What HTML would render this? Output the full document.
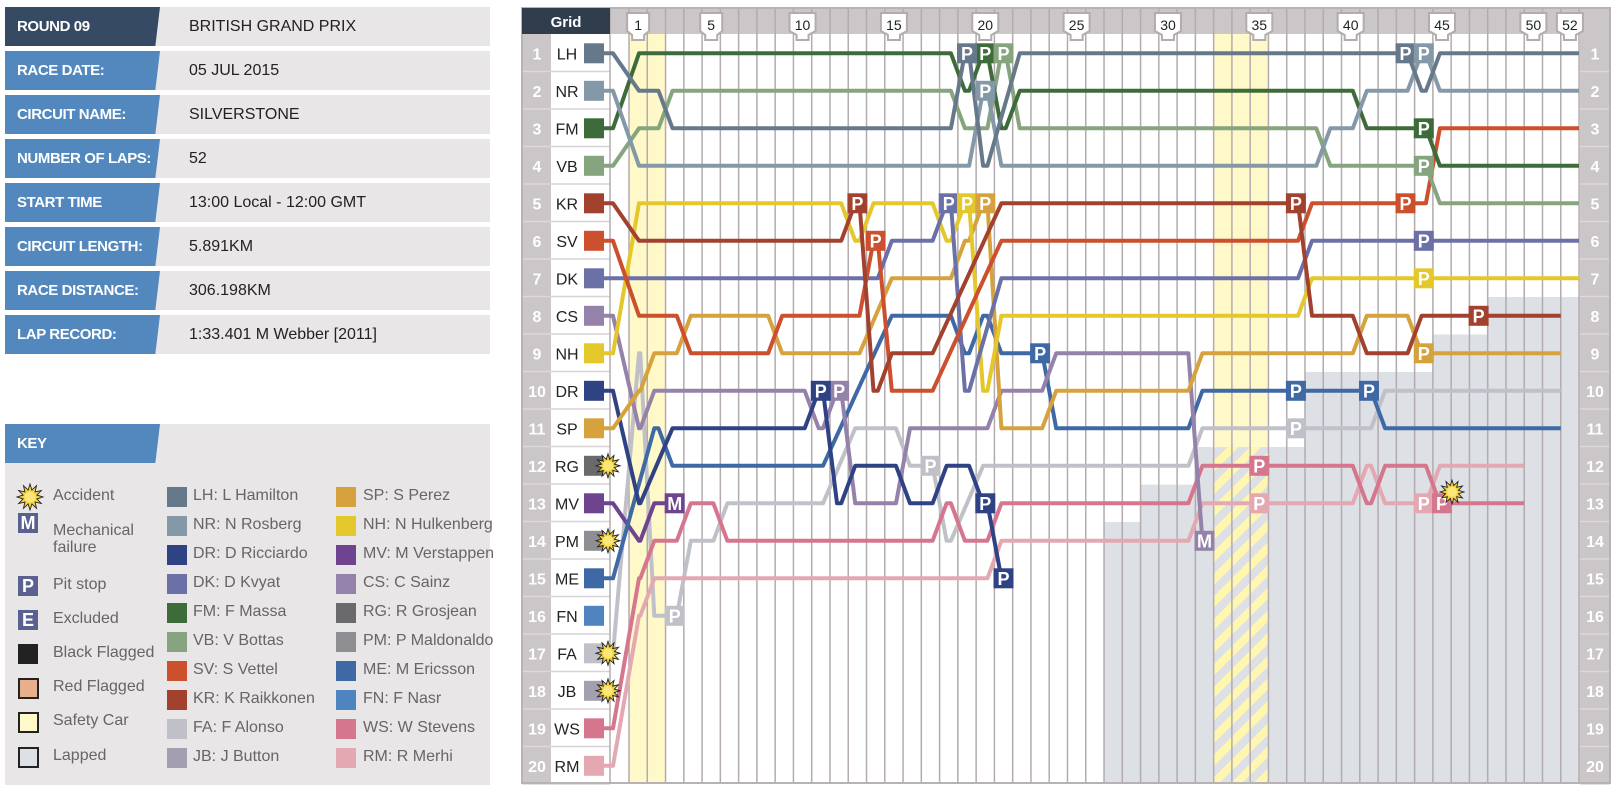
<!DOCTYPE html>
<html><head><meta charset="utf-8">
<style>
html,body{margin:0;padding:0;background:#fff;}
body{width:1614px;height:789px;position:relative;overflow:hidden;font-family:"Liberation Sans",sans-serif;}
.row{position:absolute;left:5px;width:485px;height:39px;background:#e8e6e7;}
.lab{position:absolute;left:0;top:0;width:155px;height:39px;background:#5288bd;clip-path:polygon(0 0,100% 0,97% 100%,0 100%);color:#fff;font-weight:bold;font-size:15px;letter-spacing:-0.4px;line-height:39px;padding-left:12px;box-sizing:border-box;white-space:nowrap;}
.val{position:absolute;left:184px;top:0;line-height:39px;font-size:16px;color:#222;}
.key{position:absolute;left:5px;top:424px;width:485px;height:361px;background:#e8e6e7;}
.kt{position:absolute;font-size:16px;color:#6b6365;white-space:nowrap;}
.sq{position:absolute;width:20px;height:20px;}
svg text{font-family:"Liberation Sans",sans-serif;}
</style></head><body>
<div class="row" style="top:7px"><div class="lab" style="background:#364a63">ROUND 09</div><div class="val">BRITISH GRAND PRIX</div></div>
<div class="row" style="top:51px"><div class="lab">RACE DATE:</div><div class="val">05 JUL 2015</div></div>
<div class="row" style="top:95px"><div class="lab">CIRCUIT NAME:</div><div class="val">SILVERSTONE</div></div>
<div class="row" style="top:139px"><div class="lab">NUMBER OF LAPS:</div><div class="val">52</div></div>
<div class="row" style="top:183px"><div class="lab">START TIME</div><div class="val">13:00 Local - 12:00 GMT</div></div>
<div class="row" style="top:227px"><div class="lab">CIRCUIT LENGTH:</div><div class="val">5.891KM</div></div>
<div class="row" style="top:271px"><div class="lab">RACE DISTANCE:</div><div class="val">306.198KM</div></div>
<div class="row" style="top:315px"><div class="lab">LAP RECORD:</div><div class="val">1:33.401 M Webber [2011]</div></div>

<div class="key">
<div class="lab" style="height:39px">KEY</div>
</div>
<div style="position:absolute;left:0;top:0;width:500px;height:789px;">
<div class="kt" style="left:53px;top:487px">Accident</div>
<div class="sq" style="left:18px;top:513px;background:#5a6190;color:#fff;font-weight:bold;font-size:18px;line-height:20px;text-align:center">M</div>
<div class="kt" style="left:53px;top:522px;line-height:17px">Mechanical<br>failure</div>
<div class="sq" style="left:18px;top:576px;background:#5a6190;color:#fff;font-weight:bold;font-size:18px;line-height:20px;text-align:center">P</div>
<div class="kt" style="left:53px;top:576px">Pit stop</div>
<div class="sq" style="left:18px;top:610px;background:#5a6190;color:#fff;font-weight:bold;font-size:18px;line-height:20px;text-align:center">E</div>
<div class="kt" style="left:53px;top:610px">Excluded</div>
<div class="sq" style="left:18px;top:644px;background:#222"></div>
<div class="kt" style="left:53px;top:644px">Black Flagged</div>
<div class="sq" style="left:18px;top:678px;background:#e8b08a;border:2px solid #222;width:17px;height:17px"></div>
<div class="kt" style="left:53px;top:678px">Red Flagged</div>
<div class="sq" style="left:18px;top:712px;background:#fff8c8;border:2px solid #222;width:17px;height:17px"></div>
<div class="kt" style="left:53px;top:712px">Safety Car</div>
<div class="sq" style="left:18px;top:747px;background:#dde0e5;border:2px solid #222;width:17px;height:17px"></div>
<div class="kt" style="left:53px;top:747px">Lapped</div>

<div class="sq" style="left:167px;top:487px;background:#66798a"></div><div class="kt" style="left:193px;top:487px">LH: L Hamilton</div>
<div class="sq" style="left:167px;top:516px;background:#8499a8"></div><div class="kt" style="left:193px;top:516px">NR: N Rosberg</div>
<div class="sq" style="left:167px;top:545px;background:#2f4284"></div><div class="kt" style="left:193px;top:545px">DR: D Ricciardo</div>
<div class="sq" style="left:167px;top:574px;background:#6b70a6"></div><div class="kt" style="left:193px;top:574px">DK: D Kvyat</div>
<div class="sq" style="left:167px;top:603px;background:#3d6b3a"></div><div class="kt" style="left:193px;top:603px">FM: F Massa</div>
<div class="sq" style="left:167px;top:632px;background:#86a47e"></div><div class="kt" style="left:193px;top:632px">VB: V Bottas</div>
<div class="sq" style="left:167px;top:661px;background:#cc4f2e"></div><div class="kt" style="left:193px;top:661px">SV: S Vettel</div>
<div class="sq" style="left:167px;top:690px;background:#a3412f"></div><div class="kt" style="left:193px;top:690px">KR: K Raikkonen</div>
<div class="sq" style="left:167px;top:719px;background:#c0c0c8"></div><div class="kt" style="left:193px;top:719px">FA: F Alonso</div>
<div class="sq" style="left:167px;top:748px;background:#a39fb0"></div><div class="kt" style="left:193px;top:748px">JB: J Button</div>

<div class="sq" style="left:336px;top:487px;background:#d6a23e"></div><div class="kt" style="left:363px;top:487px">SP: S Perez</div>
<div class="sq" style="left:336px;top:516px;background:#e4c72a"></div><div class="kt" style="left:363px;top:516px">NH: N Hulkenberg</div>
<div class="sq" style="left:336px;top:545px;background:#6e4390"></div><div class="kt" style="left:363px;top:545px">MV: M Verstappen</div>
<div class="sq" style="left:336px;top:574px;background:#9582ab"></div><div class="kt" style="left:363px;top:574px">CS: C Sainz</div>
<div class="sq" style="left:336px;top:603px;background:#6a6a6c"></div><div class="kt" style="left:363px;top:603px">RG: R Grosjean</div>
<div class="sq" style="left:336px;top:632px;background:#8f8f93"></div><div class="kt" style="left:363px;top:632px">PM: P Maldonaldo</div>
<div class="sq" style="left:336px;top:661px;background:#3f69a5"></div><div class="kt" style="left:363px;top:661px">ME: M Ericsson</div>
<div class="sq" style="left:336px;top:690px;background:#4f84bf"></div><div class="kt" style="left:363px;top:690px">FN: F Nasr</div>
<div class="sq" style="left:336px;top:719px;background:#d6768e"></div><div class="kt" style="left:363px;top:719px">WS: W Stevens</div>
<div class="sq" style="left:336px;top:748px;background:#e4a8b3"></div><div class="kt" style="left:363px;top:748px">RM: R Merhi</div>
</div>

<svg id="s" width="1614" height="789" style="position:absolute;left:0;top:0" xmlns="http://www.w3.org/2000/svg">
<defs>
<pattern id="hatch" width="16" height="16" patternUnits="userSpaceOnUse" patternTransform="rotate(45)">
<rect x="0" y="0" width="8" height="16" fill="#fff6b0"/>
</pattern>
</defs>
<g id="bg"></g>
<g id="lines" fill="none" stroke-width="4" stroke-linejoin="round"></g>
<g id="boxes"></g>
<g font-size="16" fill="#222" text-anchor="middle">
<rect x="522" y="8" width="88" height="26" fill="#2f3d4d"/>
<text x="566" y="27" fill="#fff" font-weight="bold" font-size="15">Grid</text>
</g>
<g font-size="14" fill="#222" text-anchor="middle">
<text x="638.1" y="30">1</text><text x="711.2" y="30">5</text><text x="802.5" y="30">10</text><text x="893.9" y="30">15</text><text x="985.3" y="30">20</text><text x="1076.6" y="30">25</text><text x="1168" y="30">30</text><text x="1259.3" y="30">35</text><text x="1350.7" y="30">40</text><text x="1442" y="30">45</text><text x="1533.4" y="30">50</text><text x="1569.9" y="30">52</text>
</g>
<g font-size="16" font-weight="bold" fill="#fff" text-anchor="middle">
<text x="537" y="59.3">1</text><text x="537" y="96.8">2</text><text x="537" y="134.3">3</text><text x="537" y="171.8">4</text><text x="537" y="209.3">5</text><text x="537" y="246.8">6</text><text x="537" y="284.3">7</text><text x="537" y="321.8">8</text><text x="537" y="359.3">9</text><text x="537" y="396.8">10</text><text x="537" y="434.3">11</text><text x="537" y="471.8">12</text><text x="537" y="509.3">13</text><text x="537" y="546.8">14</text><text x="537" y="584.3">15</text><text x="537" y="621.8">16</text><text x="537" y="659.3">17</text><text x="537" y="696.8">18</text><text x="537" y="734.3">19</text><text x="537" y="771.8">20</text>
<text x="1595" y="59.3">1</text><text x="1595" y="96.8">2</text><text x="1595" y="134.3">3</text><text x="1595" y="171.8">4</text><text x="1595" y="209.3">5</text><text x="1595" y="246.8">6</text><text x="1595" y="284.3">7</text><text x="1595" y="321.8">8</text><text x="1595" y="359.3">9</text><text x="1595" y="396.8">10</text><text x="1595" y="434.3">11</text><text x="1595" y="471.8">12</text><text x="1595" y="509.3">13</text><text x="1595" y="546.8">14</text><text x="1595" y="584.3">15</text><text x="1595" y="621.8">16</text><text x="1595" y="659.3">17</text><text x="1595" y="696.8">18</text><text x="1595" y="734.3">19</text><text x="1595" y="771.8">20</text>
</g>
<g font-size="16" fill="#222" text-anchor="middle">
<text x="567" y="59.3">LH</text><text x="567" y="96.8">NR</text><text x="567" y="134.3">FM</text><text x="567" y="171.8">VB</text><text x="567" y="209.3">KR</text><text x="567" y="246.8">SV</text><text x="567" y="284.3">DK</text><text x="567" y="321.8">CS</text><text x="567" y="359.3">NH</text><text x="567" y="396.8">DR</text><text x="567" y="434.3">SP</text><text x="567" y="471.8">RG</text><text x="567" y="509.3">MV</text><text x="567" y="546.8">PM</text><text x="567" y="584.3">ME</text><text x="567" y="621.8">FN</text><text x="567" y="659.3">FA</text><text x="567" y="696.8">JB</text><text x="567" y="734.3">WS</text><text x="567" y="771.8">RM</text>
</g>
<g>
<rect x="584" y="43.3" width="20" height="20" fill="#66798a"/><rect x="584" y="80.8" width="20" height="20" fill="#8499a8"/><rect x="584" y="118.3" width="20" height="20" fill="#3d6b3a"/><rect x="584" y="155.8" width="20" height="20" fill="#86a47e"/><rect x="584" y="193.3" width="20" height="20" fill="#a3412f"/><rect x="584" y="230.8" width="20" height="20" fill="#cc4f2e"/><rect x="584" y="268.3" width="20" height="20" fill="#6b70a6"/><rect x="584" y="305.8" width="20" height="20" fill="#9582ab"/><rect x="584" y="343.3" width="20" height="20" fill="#e4c72a"/><rect x="584" y="380.8" width="20" height="20" fill="#2f4284"/><rect x="584" y="418.3" width="20" height="20" fill="#d6a23e"/><rect x="584" y="455.8" width="20" height="20" fill="#6a6a6c"/><rect x="584" y="493.3" width="20" height="20" fill="#6e4390"/><rect x="584" y="530.8" width="20" height="20" fill="#8f8f93"/><rect x="584" y="568.3" width="20" height="20" fill="#3f69a5"/><rect x="584" y="605.8" width="20" height="20" fill="#4f84bf"/><rect x="584" y="643.3" width="20" height="20" fill="#c0c0c8"/><rect x="584" y="680.8" width="20" height="20" fill="#a39fb0"/><rect x="584" y="718.3" width="20" height="20" fill="#d6768e"/><rect x="584" y="755.8" width="20" height="20" fill="#e4a8b3"/>
</g>
<g font-size="18" font-weight="bold" fill="#fff" text-anchor="middle">
<g transform="translate(985.3,53.3)"><rect x="-10" y="-10" width="20" height="20" fill="#3d6b3a"/><text y="6.5">P</text></g>
<g transform="translate(1423.8,128.3)"><rect x="-10" y="-10" width="20" height="20" fill="#3d6b3a"/><text y="6.5">P</text></g>
<g transform="translate(1003.5,53.3)"><rect x="-10" y="-10" width="20" height="20" fill="#86a47e"/><text y="6.5">P</text></g>
<g transform="translate(1423.8,165.8)"><rect x="-10" y="-10" width="20" height="20" fill="#86a47e"/><text y="6.5">P</text></g>
<g transform="translate(967,53.3)"><rect x="-10" y="-10" width="20" height="20" fill="#66798a"/><text y="6.5">P</text></g>
<g transform="translate(1405.5,53.3)"><rect x="-10" y="-10" width="20" height="20" fill="#66798a"/><text y="6.5">P</text></g>
<g transform="translate(985.3,90.8)"><rect x="-10" y="-10" width="20" height="20" fill="#8499a8"/><text y="6.5">P</text></g>
<g transform="translate(1423.8,53.3)"><rect x="-10" y="-10" width="20" height="20" fill="#8499a8"/><text y="6.5">P</text></g>
<g transform="translate(857.4,203.3)"><rect x="-10" y="-10" width="20" height="20" fill="#a3412f"/><text y="6.5">P</text></g>
<g transform="translate(1295.9,203.3)"><rect x="-10" y="-10" width="20" height="20" fill="#a3412f"/><text y="6.5">P</text></g>
<g transform="translate(1478.6,315.8)"><rect x="-10" y="-10" width="20" height="20" fill="#a3412f"/><text y="6.5">P</text></g>
<g transform="translate(875.6,240.8)"><rect x="-10" y="-10" width="20" height="20" fill="#cc4f2e"/><text y="6.5">P</text></g>
<g transform="translate(1405.5,203.3)"><rect x="-10" y="-10" width="20" height="20" fill="#cc4f2e"/><text y="6.5">P</text></g>
<g transform="translate(948.7,203.3)"><rect x="-10" y="-10" width="20" height="20" fill="#6b70a6"/><text y="6.5">P</text></g>
<g transform="translate(1423.8,240.8)"><rect x="-10" y="-10" width="20" height="20" fill="#6b70a6"/><text y="6.5">P</text></g>
<g transform="translate(967,203.3)"><rect x="-10" y="-10" width="20" height="20" fill="#e4c72a"/><text y="6.5">P</text></g>
<g transform="translate(1423.8,278.3)"><rect x="-10" y="-10" width="20" height="20" fill="#e4c72a"/><text y="6.5">P</text></g>
<g transform="translate(985.3,203.3)"><rect x="-10" y="-10" width="20" height="20" fill="#d6a23e"/><text y="6.5">P</text></g>
<g transform="translate(1423.8,353.3)"><rect x="-10" y="-10" width="20" height="20" fill="#d6a23e"/><text y="6.5">P</text></g>
<g transform="translate(839.1,390.8)"><rect x="-10" y="-10" width="20" height="20" fill="#9582ab"/><text y="6.5">P</text></g>
<g transform="translate(820.8,390.8)"><rect x="-10" y="-10" width="20" height="20" fill="#2f4284"/><text y="6.5">P</text></g>
<g transform="translate(985.3,503.3)"><rect x="-10" y="-10" width="20" height="20" fill="#2f4284"/><text y="6.5">P</text></g>
<g transform="translate(1003.5,578.3)"><rect x="-10" y="-10" width="20" height="20" fill="#2f4284"/><text y="6.5">P</text></g>
<g transform="translate(1040.1,353.3)"><rect x="-10" y="-10" width="20" height="20" fill="#3f69a5"/><text y="6.5">P</text></g>
<g transform="translate(1295.9,390.8)"><rect x="-10" y="-10" width="20" height="20" fill="#3f69a5"/><text y="6.5">P</text></g>
<g transform="translate(1369,390.8)"><rect x="-10" y="-10" width="20" height="20" fill="#3f69a5"/><text y="6.5">P</text></g>
<g transform="translate(674.7,615.8)"><rect x="-10" y="-10" width="20" height="20" fill="#c0c0c8"/><text y="6.5">P</text></g>
<g transform="translate(930.5,465.8)"><rect x="-10" y="-10" width="20" height="20" fill="#c0c0c8"/><text y="6.5">P</text></g>
<g transform="translate(1295.9,428.3)"><rect x="-10" y="-10" width="20" height="20" fill="#c0c0c8"/><text y="6.5">P</text></g>
<g transform="translate(1259.3,465.8)"><rect x="-10" y="-10" width="20" height="20" fill="#d6768e"/><text y="6.5">P</text></g>
<g transform="translate(1259.3,503.3)"><rect x="-10" y="-10" width="20" height="20" fill="#e4a8b3"/><text y="6.5">P</text></g>
<g transform="translate(1423.8,503.3)"><rect x="-10" y="-10" width="20" height="20" fill="#e4a8b3"/><text y="6.5">P</text></g>
<g transform="translate(1442,503.3)"><rect x="-10" y="-10" width="20" height="20" fill="#d6768e"/><text y="6.5">P</text></g>
<g transform="translate(674.7,503.3)"><rect x="-10" y="-10" width="20" height="20" fill="#6e4390"/><text y="6.5">M</text></g>
<g transform="translate(1204.5,540.8)"><rect x="-10" y="-10" width="20" height="20" fill="#9582ab"/><text y="6.5">M</text></g>
</g>
<g id="stars"></g>
</svg>
<script>
(function(){
var NS="http://www.w3.org/2000/svg";
function el(g,t,a){var e=document.createElementNS(NS,t);for(var k in a)e.setAttribute(k,a[k]);g.appendChild(e);return e;}
var B=function(k){return 629+18.27*k;};
var Y=function(p){return 53.3+37.5*(p-1);};
var bg=document.getElementById('bg');
el(bg,'rect',{x:610,y:8,width:1000,height:26,fill:'#cbc6c8'});
el(bg,'rect',{x:522,y:34,width:29,height:749,fill:'#cbc6c8'});
el(bg,'rect',{x:1580,y:34,width:30,height:749,fill:'#cbc6c8'});
el(bg,'rect',{x:629,y:34,width:B(2)-629,height:749,fill:'#fff8c8'});
el(bg,'rect',{x:B(32),y:34,width:B(35)-B(32),height:749,fill:'#fff8c8'});
el(bg,'polygon',{points:'1104,783 1104,522 1140.6,522 1140.6,484.6 1195.4,484.6 1195.4,447 1305,447 1305,372 1433,372 1433,334.5 1488,334.5 1488,297 1580,297 1580,783',fill:'#dde0e4'});
el(bg,'rect',{x:B(32),y:447,width:B(35)-B(32),height:336,fill:'url(#hatch)'});
for(var p=1;p<=20;p++){var yb=34+37.5*p;
 el(bg,'line',{x1:522,x2:551,y1:yb,y2:yb,stroke:'#ddd8da','stroke-width':1.5});
 el(bg,'line',{x1:551,x2:610,y1:yb,y2:yb,stroke:'#d8d3d5','stroke-width':1.5});
 el(bg,'line',{x1:1580,x2:1610,y1:yb,y2:yb,stroke:'#ddd8da','stroke-width':1.5});}
el(bg,'line',{x1:610,x2:610,y1:8,y2:783,stroke:'#b3abae','stroke-width':1.5});
for(var k=0;k<=52;k++){el(bg,'line',{x1:B(k),x2:B(k),y1:8,y2:783,stroke:'#b3abae','stroke-width':1.5});}
el(bg,'rect',{x:522,y:8,width:1088,height:775,fill:'none',stroke:'#b9b2b5','stroke-width':2});
var bx=document.getElementById('boxes');
[1,5,10,15,20,25,30,35,40,45,50,52].forEach(function(l){var x=629+18.27*(l-0.5);var w=l<10?11:13;
 el(bx,'path',{d:'M'+(x-w)+',13 H'+(x+w)+' V31 L'+(x+6)+',35 V40 H'+(x-6)+' V35 L'+(x-w)+',31 Z',fill:'#fff',stroke:'#b3abae','stroke-width':2});});
function parse(s){var a=[];s.split(',').forEach(function(t){var q=t.split(':');var r=q[0].split('-').map(Number);var e=r[1]||r[0];for(var i=r[0];i<=e;i++)a[i]=(q[1]==='_')?null:+q[1];});return a;}
var D=[
['#a39fb0',17,'1:9,2:16,3:16,4-5:14,6-11:13,12:_,13-15:11,16-17:12,18:14,19:_,20-31:12,32-41:11,42-51:10','#c0c0c8'],
['#e4a8b3',20,'1:16,2-20:15,21-31:14,32-40:13,41:12,42-44:13,45-49:12'],
['#d6768e',19,'1:15,2-3:14,4-5:13,6-17:14,18:13,19-20:14,21-31:13,32-40:12,41:13,42-44:12,45-49:13'],
['#6e4390',13,'1:14,2-3:13'],
['#3f69a5',15,'1:_,2:11,3-11:12,12-14:_,15-18:8,19:9,20:8,21-23:9,24-31:11,32-41:10,42-51:11'],
['#9582ab',8,'1:11,2-10:10,11:11,12:10,13-15:13,16-20:11,21-23:10,24-31:9,32:14'],
['#2f4284',10,'1:13,2:_,3-10:11,11:10,12:13,13-15:12,16-17:13,18-19:12,20:13,21:15'],
['#d6a23e',11,'1:10,2-3:9,4-8:8,9-13:9,14:_,15-18:7,19:6,20:5,21-23:11,24-31:10,32-40:9,41-43:8,44-51:9'],
['#e4c72a',9,'1-12:5,13:6,14-17:5,18:6,19:5,20:10,21-37:8,38-52:7'],
['#6b70a6',7,'1-14:7,15-17:6,18:5,19:10,20:_,21-37:7,38-52:6'],
['#cc4f2e',6,'1-3:8,4-8:9,9-13:8,14:6,15-17:10,18-20:_,21-37:6,38-44:5,45-52:3'],
['#a3412f',5,'1-12:6,13:5,14:10,15-17:9,18-20:_,21-37:5,38-40:8,41-43:9,44-51:8'],
['#86a47e',4,'1-2:3,3-18:2,19-20:3,21:1,22-38:3,39-44:4,45-52:5'],
['#3d6b3a',3,'1-18:1,19:2,20:1,21:3,22-40:2,41-44:3,45-52:4'],
['#8499a8',2,'1-19:4,20:2,21-38:4,39-40:3,41-43:2,44:1,45-52:2'],
['#66798a',1,'1-2:2,3-18:3,19:1,20:4,21:_,22-43:1,44:2,45-52:1']
];
var lg=document.getElementById('lines');
D.forEach(function(d){var a=parse(d[2]);var g=d[1];var pts=[[604,Y(g)],[613,Y(g)]];var last=a.length-1;
 for(var k=1;k<=last;k++){if(a[k]==null)continue;var y=Y(a[k]);var x0=(k==1)?B(0)+10:B(k-1)+7;var x1=(k==last)?B(k):B(k)-7;pts.push([x0,y],[x1,y]);}
 el(lg,'polyline',{points:pts.map(function(p){return p[0].toFixed(1)+','+p[1].toFixed(1);}).join(' '),stroke:d[3]||d[0]});});
var sg=document.getElementById('stars');
function star(cx,cy,r){var pts=[];for(var i=0;i<24;i++){var rr=(i%2)?r*0.55:r;var an=Math.PI*2*i/24;pts.push((cx+rr*Math.cos(an)).toFixed(1)+','+(cy+rr*Math.sin(an)).toFixed(1));}
 el(sg,'polygon',{points:pts.join(' '),fill:'#f5d23a',stroke:'#222','stroke-width':0.9});
 el(sg,'circle',{cx:cx,cy:cy,r:r*0.42,fill:'#fbe77a'});}
star(608,465.8,12);star(608,540.8,12);star(608,653.3,12);star(608,690.8,12);star(1452,492,12);
star(30,497,13);
})();
</script>
</body></html>
